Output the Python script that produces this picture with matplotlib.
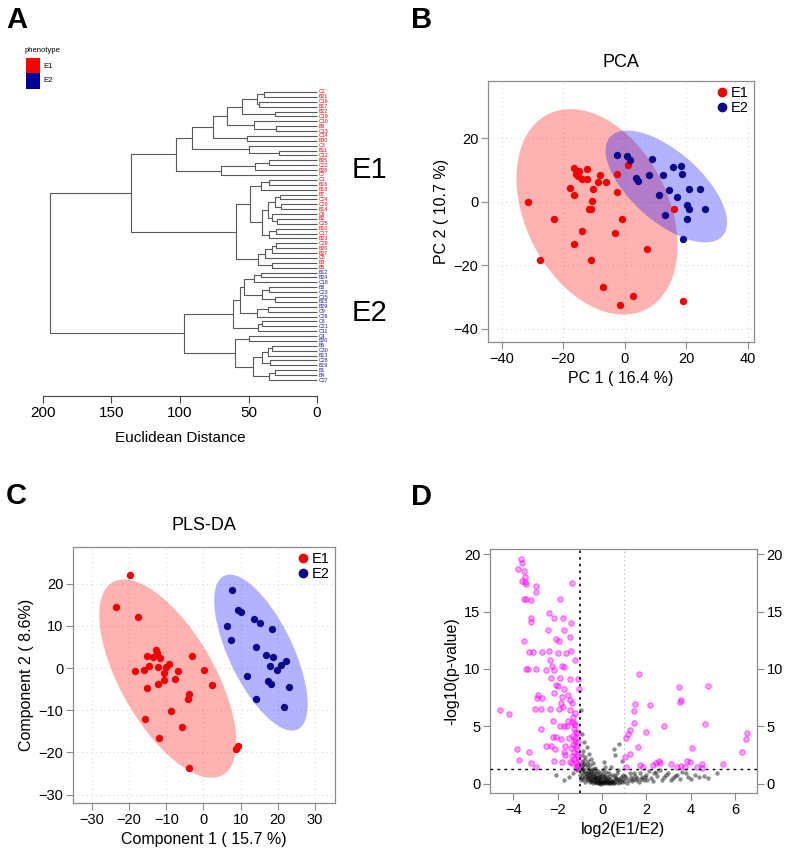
import numpy as np
import matplotlib
matplotlib.use("Agg")
import matplotlib.pyplot as plt
from matplotlib.patches import Ellipse, Rectangle
from matplotlib.lines import Line2D

plt.rcParams['font.family'] = ['Liberation Sans', 'DejaVu Sans']

W, H = 787, 855

# ---------------- data ----------------
# Panel A: hierarchical clustering tree [height, left, right], leaves are sample names
e1a = [103,
       [91,
        [76,
         [66,
          [55,
           [44, [39, 'C2', 'B21'], [42, 'C16', 'B17']],
           [31, 'B22', 'C19']],
          [46, 'C10', [30, 'B9', 'C13']]],
         [51, 'C14', 'B30']],
        [50, 'C3', [28, 'B11', 'C12']]],
       [70, [45, [35, 'B25', 'C22'], 'B28'], 'C7']]
e1b = [59,
       [49,
        [41, [35, 'C1', 'B16'], 'B18'],
        [40,
         [36, [31, [27, 'B7', 'C24'], [26, 'C20', 'B14']], [33, 'C6', [29, 'B2', 'C25']]],
         [35, [30, 'B10', 'C17'], 'B23']]],
       [43, [38, [33, [30, 'C29', 'B26'], 'B27'], 'C5'], [33, 'B3', 'B5']]]
e2a = [61,
       [56,
        [53, [46, [41, 'B12', 'B24'], 'C18'], [40, [35, 'B8', 'C23'], [31, 'C15', 'B15']]],
        [44, [36, 'B29', 'C9'], 'C26']],
       [43, [40, 'C8', 'C21'], 'C11']]
e2b = [60,
       [50, 'C4', 'B20'],
       [47,
        [40, [36, [33, 'B6', 'C30'], 'B13'], [34, 'C28', 'B19']],
        [35, [31, 'B1', 'B4'], 'C27']]]
tree = [195, [136, e1a, e1b], [97, e2a, e2b]]
dist_ticks = [200, 150, 100, 50, 0]

# Panel B: PCA scores
pca_e1_x = [-31.5, -27.4, -22.9, -17.9, -16.6, -16.4, -15.9, -14.9, -14.0, -15.2, -12.1, -12.4,
            -10.2, -10.7, -11.5, -10.9, -14.0, -16.5, -11.1, -8.0, -8.6, -6.2, -2.4, -2.4,
            -1.0, -3.1, -7.2, -1.4, 2.6, 7.2, 1.1, 16.0, 18.9]
pca_e1_y = [0.0, -18.3, -5.5, 4.4, 10.6, 2.3, 8.9, 9.8, 7.1, 8.2, 10.5, 7.2,
            4.0, 0.3, -2.3, -2.3, -9.1, -13.4, -18.3, 8.4, 6.3, 6.2, 8.8, 3.1,
            -5.5, -9.9, -26.7, -32.6, -29.6, -14.8, 11.6, -2.4, -31.4]
pca_e2_x = [-2.6, 0.8, 1.7, 9.0, 3.7, 4.4, 8.0, 12.5, 15.8, 18.2, 18.5, 11.2, 14.5, 17.1,
            21.0, 24.3, 20.2, 21.0, 26.0, 13.2, 20.1, 18.9]
pca_e2_y = [14.8, 14.6, 13.1, 13.4, 7.4, 6.6, 8.6, 8.5, 11.1, 11.4, 8.8, 2.3, 3.7, 1.5,
            3.9, 3.9, -0.9, -2.3, -2.4, -4.3, -5.5, -11.7]

# Panel C: PLS-DA scores
pls_e1_x = [-19.8, -23.5, -17.7, -12.9, -15.1, -13.5, -11.6, -12.4, -18.4, -16.1, -14.6, -12.1,
            -10.0, -9.2, -10.7, -10.5, -6.9, -7.7, -12.2, -15.3, -3.2, 0.2, 2.2, -3.8,
            -4.1, -8.8, -15.8, -5.8, -12.0, -3.8, 8.7, 9.3]
pls_e1_y = [22.1, 14.5, 12.2, 4.2, 2.8, 2.6, 2.4, 3.6, -0.7, -0.4, 0.4, 0.2,
            0.2, 1.0, -1.2, -2.8, -0.8, -2.5, -3.9, -4.7, 2.9, -0.5, -4.1, -6.1,
            -7.4, -10.3, -12.0, -14.0, -16.5, -23.7, -19.3, -18.4]
pls_e2_x = [7.8, 9.3, 10.0, 6.3, 7.3, 13.6, 15.2, 18.4, 14.1, 16.7, 18.8, 17.9, 19.9, 21.0,
            22.2, 11.8, 17.5, 18.3, 22.9, 14.2, 21.8]
pls_e2_y = [18.6, 13.7, 13.4, 9.9, 6.6, 11.7, 10.7, 9.2, 5.0, 3.2, 2.5, 0.4, -0.4, 0.8,
            1.7, -2.0, -3.0, -3.8, -4.6, -7.3, -9.3]

# Panel D: volcano plot (log2 fold change, -log10 p)
sig_pts = [(-3.67, 19.6), (-3.62, 19.2), (-3.8, 18.7), (-3.54, 18.5), (-3.5, 18.0), (-3.47, 17.6),
           (-3.62, 17.7), (-3.44, 17.4), (-3.0, 17.2), (-2.96, 16.7), (-3.54, 16.1), (-3.43, 16.1),
           (-3.2, 16.0), (-3.2, 14.4), (-3.2, 14.1), (-1.92, 16.1), (-1.36, 17.5), (-2.38, 14.9),
           (-2.15, 14.4), (-1.78, 14.4), (-1.39, 14.0), (-2.44, 13.4), (-2.08, 12.6), (-1.94, 12.4),
           (-1.7, 13.4), (-1.46, 12.8), (-3.51, 12.4), (-3.29, 11.5), (-3.12, 11.5), (-2.71, 11.5),
           (-2.41, 11.6), (-2.0, 11.4), (-1.63, 11.4), (-1.4, 11.6), (-1.24, 10.8), (-2.37, 10.8),
           (-2.26, 10.3), (-1.81, 10.3), (-1.73, 10.2), (-3.42, 10.0), (-3.35, 10.0), (-3.0, 10.0),
           (-2.52, 9.9), (-2.19, 9.9), (-2.32, 9.2), (-1.92, 9.2), (-1.46, 9.1), (-1.1, 9.1),
           (-2.08, 8.6), (-1.97, 8.5), (-1.7, 8.3), (-1.04, 8.3), (-2.94, 7.5), (-2.9, 7.7),
           (-2.71, 7.5), (-2.19, 7.9), (-1.81, 7.6), (-1.55, 7.7), (-1.43, 7.3), (-1.84, 7.0),
           (-1.76, 6.7), (-1.36, 7.0), (-3.03, 6.5), (-2.74, 6.5), (-2.34, 6.5), (-1.94, 6.5),
           (-1.43, 6.4), (-1.21, 6.2), (-4.6, 6.4), (-4.19, 6.1), (-2.22, 5.5), (-1.54, 5.5),
           (-1.36, 5.4), (-1.28, 5.3), (-2.74, 4.8), (-1.92, 5.0), (-1.73, 5.0), (-1.58, 5.0),
           (-1.16, 4.5), (-2.23, 4.1), (-2.06, 4.1), (-1.86, 3.9), (-1.51, 4.0), (-1.21, 4.0),
           (-2.52, 3.3), (-2.3, 3.3), (-2.11, 3.0), (-1.66, 3.3), (-1.33, 3.5), (-1.18, 3.3),
           (-3.82, 3.0), (-3.29, 2.8), (-1.7, 2.8), (-1.27, 2.8), (-1.13, 3.0), (-3.73, 2.1),
           (-2.19, 2.0), (-1.68, 2.5), (-1.25, 2.2), (-1.1, 2.4), (-3.2, 1.8), (-3.0, 1.45),
           (-1.81, 1.9), (-1.46, 1.9), (-1.34, 1.8), (-1.16, 1.9), (-1.07, 1.65), (-1.18, 1.4),
           (-1.3, 5.8), (-1.25, 4.8), (-1.2, 3.7), (-1.15, 2.6), (-1.05, 2.0), (-1.12, 1.5),
           (-1.35, 2.4), (-1.4, 3.1), (-1.3, 4.2), (-1.22, 5.1), (-1.08, 3.6), (-1.1, 4.4),
           (1.66, 9.57), (3.47, 8.4), (4.80, 8.5), (3.51, 7.1), (3.56, 7.3), (1.51, 6.96),
           (2.16, 6.9), (1.43, 6.3), (1.46, 5.3), (2.79, 5.0), (4.63, 5.2), (1.98, 4.5),
           (1.25, 4.7), (1.18, 4.3), (1.1, 4.0), (6.56, 4.46), (6.52, 3.9), (6.33, 2.8),
           (1.61, 3.2), (4.07, 3.1), (1.25, 2.6), (1.06, 2.3), (5.47, 1.74), (1.7, 1.6),
           (1.85, 1.5), (2.28, 1.6), (2.42, 1.8), (2.57, 2.0), (2.64, 1.8), (3.1, 1.7),
           (3.85, 2.0), (3.99, 1.9), (3.76, 1.5), (4.51, 1.7), (4.3, 1.5), (3.4, 1.5),
           (1.1, 1.5), (3.55, 1.55), (4.5, 1.4)]
ns_pts = [(-0.95, 6.4), (-0.9, 4.3), (-0.8, 3.6), (-0.7, 3.2), (-0.85, 2.9), (-0.6, 2.6),
          (-0.9, 2.5), (-0.75, 2.3), (-0.5, 2.2), (-0.65, 2.0), (-0.9, 1.9), (-0.4, 1.8),
          (-0.8, 1.7), (-0.55, 1.6), (-0.95, 1.5), (-0.7, 1.45), (-0.3, 1.4), (-0.85, 1.3),
          (-0.6, 1.25), (-0.45, 1.2), (-0.2, 1.1), (-0.75, 1.1), (-0.9, 1.0), (-0.5, 1.0),
          (-0.35, 0.95), (-0.1, 0.9), (-0.65, 0.9), (-0.8, 0.85), (-0.25, 0.8), (-0.55, 0.75),
          (0.0, 0.7), (-0.4, 0.7), (-0.7, 0.65), (-0.15, 0.6), (-0.9, 0.6), (0.1, 0.55),
          (-0.3, 0.55), (-0.6, 0.5), (-0.05, 0.45), (0.2, 0.45), (-0.45, 0.4), (-0.2, 0.35),
          (0.05, 0.3), (0.3, 0.3), (-0.35, 0.25), (-0.1, 0.2), (0.15, 0.2), (0.4, 0.2),
          (-0.25, 0.15), (0.0, 0.1), (0.25, 0.1), (-0.15, 0.05), (0.1, 0.05), (0.35, 0.05),
          (0.5, 0.1), (0.6, 0.2), (0.5, 0.35), (0.7, 0.3), (0.8, 0.15), (0.65, 0.5),
          (0.9, 0.4), (1.0, 0.25), (0.85, 0.6), (1.1, 0.5), (1.2, 0.3), (0.95, 0.8),
          (1.3, 0.6), (1.4, 0.4), (1.25, 0.9), (1.5, 0.7), (1.6, 0.5), (1.7, 0.9),
          (1.8, 0.6), (1.9, 0.35), (2.0, 0.8), (2.1, 1.1), (2.2, 0.5), (2.35, 0.9),
          (2.5, 0.7), (2.6, 1.2), (2.8, 0.6), (3.0, 0.9), (3.2, 0.5), (3.4, 0.8),
          (3.6, 1.0), (3.9, 0.6), (4.2, 0.8), (4.6, 0.7), (5.2, 0.9), (0.1, 1.9),
          (0.15, 1.5), (0.05, 1.2), (0.2, 1.0), (0.6, 2.5), (0.75, 3.5), (0.55, 3.0),
          (0.9, 2.0), (0.4, 1.5), (0.7, 1.2), (0.3, 0.9), (-1.5, 0.6), (-1.7, 0.3),
          (-1.3, 0.9), (-2.1, 0.8), (-1.15, 1.2),
          (-0.95, 0.3), (-0.85, 0.45), (-0.75, 0.2), (-0.7, 0.4), (-0.62, 0.3), (-0.55, 0.15),
          (-0.5, 0.55), (-0.48, 0.25), (-0.42, 0.1), (-0.38, 0.45), (-0.32, 0.12), (-0.28, 0.38),
          (-0.22, 0.05), (-0.18, 0.22), (-0.12, 0.1), (-0.08, 0.32), (-0.03, 0.02), (0.02, 0.18),
          (0.07, 0.12), (0.12, 0.35), (0.18, 0.04), (0.22, 0.25), (0.28, 0.16), (0.33, 0.4),
          (0.38, 0.1), (0.45, 0.28), (0.55, 0.05), (0.62, 0.4), (0.72, 0.1), (0.78, 0.45),
          (-0.98, 0.8), (-0.92, 1.25), (-0.88, 1.6), (-0.82, 2.1), (-0.78, 0.55), (-0.72, 0.95),
          (-0.68, 1.7), (-0.62, 0.7), (-0.58, 1.05), (-0.52, 0.35), (-0.46, 0.85), (-0.4, 1.3),
          (-0.33, 0.6), (-0.27, 1.0), (-0.21, 0.5), (-0.14, 0.8), (-0.07, 0.6), (0.04, 0.85),
          (0.14, 0.7), (0.24, 0.6), (0.36, 0.7), (0.48, 0.8), (0.58, 0.65), (0.68, 0.9),
          (0.92, 0.15), (1.05, 0.7), (1.15, 0.1), (1.35, 0.25), (1.45, 0.95), (1.55, 0.3),
          (1.65, 0.15), (1.75, 0.45), (1.95, 0.6), (2.05, 0.3), (2.3, 0.25), (2.45, 1.0),
          (2.7, 0.35), (2.9, 0.8), (3.1, 0.3), (3.3, 0.65), (3.5, 0.4), (3.8, 0.9),
          (4.0, 0.45), (4.4, 0.6), (4.8, 0.5)]

# ---------------- figure ----------------
fig = plt.figure(figsize=(W / 100, H / 100), dpi=100)


def add_ax(x0, y0, x1, y1):
    return fig.add_axes([x0 / W, 1 - y1 / H, (x1 - x0) / W, (y1 - y0) / H])


def fig_text(x, y, s, **kw):
    fig.text(x / W, 1 - y / H, s, **kw)


# ---------- Panel A: dendrogram ----------
axA = add_ax(43, 88, 317, 396)
leaves = []


def collect(node):
    if isinstance(node, str):
        leaves.append(node)
    else:
        collect(node[1])
        collect(node[2])


collect(tree)
leaf_pos = {name: i for i, name in enumerate(leaves)}
e1_set = set()


def collect_set(node, s):
    if isinstance(node, str):
        s.add(node)
    else:
        collect_set(node[1], s)
        collect_set(node[2], s)


collect_set(tree[1], e1_set)


def draw(node):
    if isinstance(node, str):
        return leaf_pos[node], 0.0
    h = node[0]
    y1, h1 = draw(node[1])
    y2, h2 = draw(node[2])
    axA.plot([h1, h, h, h2], [y1, y1, y2, y2], color='#5a5a5a', lw=0.8,
             solid_capstyle='butt', clip_on=False)
    return (y1 + y2) / 2, h


draw(tree)
n = len(leaves)
s_px = 288.0 / (n - 1)
axA.set_xlim(200, 0)
axA.set_ylim((396 - 92) / s_px, -4 / s_px)
for name in leaves:
    axA.text(-1.0, leaf_pos[name], name, fontsize=3.8, va='center', ha='left',
             color='#ff0000' if name in e1_set else '#1a1aaa', clip_on=False)
for sp in ['top', 'right', 'left']:
    axA.spines[sp].set_visible(False)
axA.spines['bottom'].set_color('#444444')
axA.spines['bottom'].set_linewidth(0.8)
axA.set_yticks([])
axA.set_xticks(dist_ticks)
axA.tick_params(axis='x', length=5, width=0.8, color='#444444', labelsize=11, pad=2)
axA.set_xlabel('Euclidean Distance', fontsize=11, labelpad=8)

fig_text(352, 170, 'E1', fontsize=21, va='center', ha='left')
fig_text(352, 313, 'E2', fontsize=21, va='center', ha='left')

# legend "phenotype"
fig_text(25, 50, 'phenotype', fontsize=5.5, va='center', ha='left')
fig.add_artist(Rectangle((26 / W, 1 - 73 / H), 14 / W, 15 / H, transform=fig.transFigure,
                         facecolor='#ff0000', edgecolor='none'))
fig.add_artist(Rectangle((26 / W, 1 - 89 / H), 14 / W, 16 / H, transform=fig.transFigure,
                         facecolor='#000099', edgecolor='none'))
fig_text(43, 66, 'E1', fontsize=5.5, va='center', ha='left')
fig_text(43, 81, 'E2', fontsize=5.5, va='center', ha='left')


# ---------- helpers for score plots ----------
def conf_ellipse(ax, xs, ys, color):
    xs = np.asarray(xs)
    ys = np.asarray(ys)
    cov = np.cov(xs, ys)
    vals, vecs = np.linalg.eigh(cov)
    order = vals.argsort()[::-1]
    vals, vecs = vals[order], vecs[:, order]
    ang = np.degrees(np.arctan2(vecs[1, 0], vecs[0, 0]))
    k = np.sqrt(5.991)
    e = Ellipse((xs.mean(), ys.mean()), 2 * k * np.sqrt(vals[0]), 2 * k * np.sqrt(vals[1]),
                angle=ang, facecolor=color, edgecolor='none', alpha=0.3, zorder=1)
    ax.add_patch(e)


def style_score(ax):
    for sp in ax.spines.values():
        sp.set_color('#8c8c8c')
        sp.set_linewidth(0.9)
    ax.tick_params(length=5, width=0.8, color='#8c8c8c', labelsize=10.5, pad=2)
    ax.grid(True, color='#dadada', linestyle=(0, (1, 3)), linewidth=0.8)
    ax.set_axisbelow(True)


RED = '#f00000'
NAVY = '#0a0a8a'

# ---------- Panel B: PCA ----------
axB = add_ax(488, 81, 754, 342)
conf_ellipse(axB, pca_e1_x, pca_e1_y, '#ff0000')
conf_ellipse(axB, pca_e2_x, pca_e2_y, '#0000ff')
axB.scatter(pca_e1_x, pca_e1_y, s=28, color=RED, zorder=3, linewidths=0)
axB.scatter(pca_e2_x, pca_e2_y, s=28, color=NAVY, zorder=3, linewidths=0)
axB.set_xlim(-44.4, 42.0)
axB.set_ylim(-44.2, 38.1)
axB.set_xticks([-40, -20, 0, 20, 40])
axB.set_yticks([-40, -20, 0, 20])
style_score(axB)
axB.set_title('PCA', fontsize=13, pad=10)
axB.set_xlabel('PC 1 ( 16.4 %)', fontsize=11.5, labelpad=4)
axB.set_ylabel('PC 2 ( 10.7 %)', fontsize=11.5, labelpad=3)
hB = [Line2D([], [], marker='o', ls='', color=RED, markersize=6),
      Line2D([], [], marker='o', ls='', color=NAVY, markersize=6)]
axB.legend(hB, ['E1', 'E2'], loc='upper right', frameon=False, fontsize=10.5,
           handlelength=0.8, handletextpad=0.2, labelspacing=0.05, borderaxespad=0.15,
           borderpad=0.2)

# ---------- Panel C: PLS-DA ----------
axC = add_ax(73, 547, 335, 803)
conf_ellipse(axC, pls_e1_x, pls_e1_y, '#ff0000')
conf_ellipse(axC, pls_e2_x, pls_e2_y, '#0000ff')
axC.scatter(pls_e1_x, pls_e1_y, s=28, color=RED, zorder=3, linewidths=0)
axC.scatter(pls_e2_x, pls_e2_y, s=28, color=NAVY, zorder=3, linewidths=0)
axC.set_xlim(-35.1, 35.4)
axC.set_ylim(-32.0, 28.7)
axC.set_xticks([-30, -20, -10, 0, 10, 20, 30])
axC.set_yticks([-30, -20, -10, 0, 10, 20])
style_score(axC)
axC.set_title('PLS-DA', fontsize=13, pad=12)
axC.set_xlabel('Component 1 ( 15.7 %)', fontsize=11.5, labelpad=4)
axC.set_ylabel('Component 2 ( 8.6%)', fontsize=11.5, labelpad=3)
axC.legend(hB, ['E1', 'E2'], loc='upper right', frameon=False, fontsize=10.5,
           handlelength=0.8, handletextpad=0.2, labelspacing=0.05, borderaxespad=0.15,
           borderpad=0.2)

# ---------- Panel D: volcano ----------
axD = add_ax(490, 549, 757, 793)
nx = [p[0] for p in ns_pts]
ny = [p[1] for p in ns_pts]
sx = [p[0] for p in sig_pts]
sy = [p[1] for p in sig_pts]
axD.scatter(nx, ny, s=10, color='black', alpha=0.45, linewidths=0, zorder=2)
axD.scatter(sx, sy, s=15, facecolor=(1, 0, 1, 0.35), edgecolor=(1, 0, 1, 0.55),
            linewidths=0.8, zorder=3)
axD.axvline(-1, color='black', linestyle=(0, (1.5, 2.5)), lw=1.2, zorder=4)
axD.axvline(1, color='#bbbbbb', linestyle=(0, (1, 2.5)), lw=0.9, zorder=1)
axD.axhline(1.3, color='black', linestyle=(0, (2, 3)), lw=1.0, zorder=4)
axD.set_xlim(-5.06, 7.0)
axD.set_ylim(-0.8, 20.45)
axD.set_xticks([-4, -2, 0, 2, 4, 6])
axD.set_yticks([0, 5, 10, 15, 20])
for sp in axD.spines.values():
    sp.set_color('#8c8c8c')
    sp.set_linewidth(0.9)
axD.tick_params(length=5, width=0.8, color='#8c8c8c', labelsize=10.5, pad=2,
                right=True, labelright=True)
axD.set_xlabel('log2(E1/E2)', fontsize=11.5, labelpad=4)
axD.set_ylabel('-log10(p-value)', fontsize=11.5, labelpad=3)

# ---------- panel letters ----------
for (x, y, s) in [(6, 28, 'A'), (411, 28, 'B'), (6, 504, 'C'), (411, 505, 'D')]:
    fig_text(x, y, s, fontsize=21, fontweight='bold', va='baseline', ha='left')

fig.savefig('out.png', dpi=100)
